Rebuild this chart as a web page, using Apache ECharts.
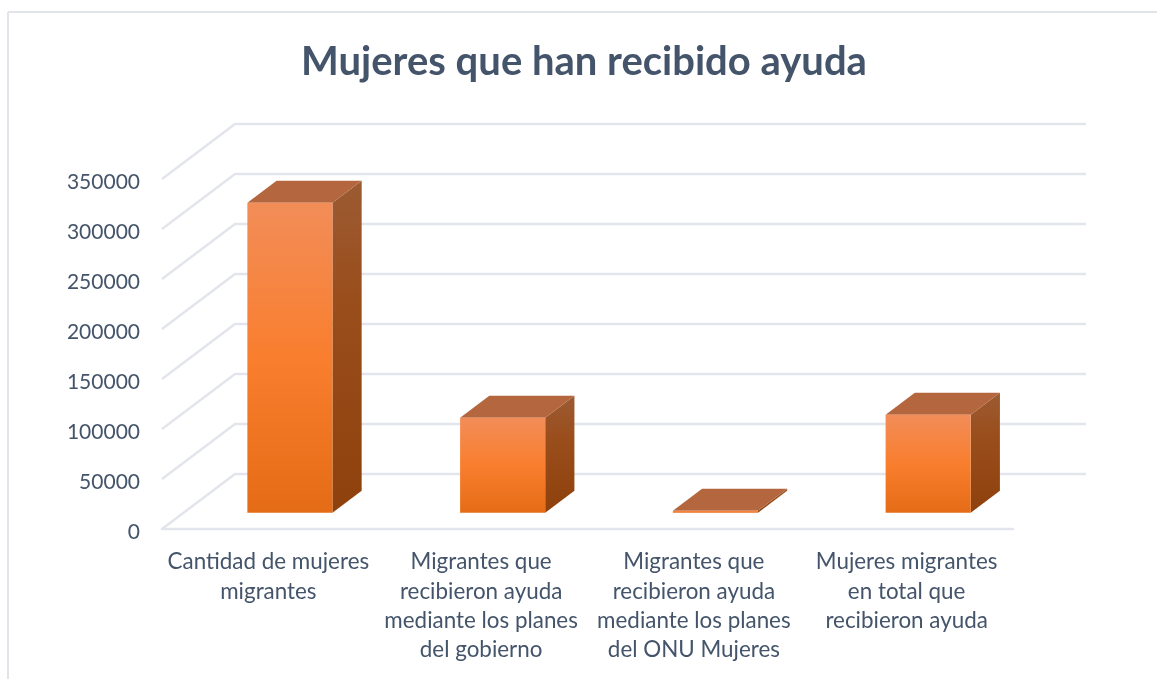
<!DOCTYPE html>
<html>
<head>
<meta charset="utf-8">
<style>
  html, body { margin: 0; padding: 0; background: #fff; }
  #chart { width: 1157px; height: 679px; }
</style>
<script src="https://cdn.jsdelivr.net/npm/echarts@6/dist/echarts.min.js"></script>
</head>
<body>
<div id="chart"></div>
<script>
const TITLE = "Mujeres que han recibido ayuda";
const categories = [
  "Cantidad de mujeres\nmigrantes",
  "Migrantes que\nrecibieron ayuda\nmediante los planes\ndel gobierno",
  "Migrantes que\nrecibieron ayuda\nmediante los planes\ndel ONU Mujeres",
  "Mujeres migrantes\nen total que\nrecibieron ayuda",
];
const values = [310000, 95000, 2000, 98000];
const yTicks = [0, 50000, 100000, 150000, 200000, 250000, 300000, 350000];

const TEXT_COLOR = "#44546A";
const GRID_COLOR = "#E2E5EB";
const FONT = "Lato";
// floor depth of the fake 3D box, in px
const DEPTH_X = 73;
const DEPTH_Y = 55;
const BAR_FRONT = 0.295;
const BAR_BACK = 0.695;
const BAR_RATIO = 0.4;

const chart = echarts.init(document.getElementById("chart"), null, { renderer: "canvas" });

function vGrad(stops) {
  return new echarts.graphic.LinearGradient(0, 0, 0, 1, stops);
}

function renderWall(params, api) {
  const v = api.value(1);
  const cs = params.coordSys;
  const y = api.coord([0, v])[1];
  return {
    type: "polyline",
    shape: {
      points: [
        [cs.x, y],
        [cs.x + DEPTH_X, y - DEPTH_Y],
        [cs.x + cs.width + DEPTH_X, y - DEPTH_Y],
      ],
    },
    style: { stroke: GRID_COLOR, lineWidth: 2.4, fill: null, lineJoin: "round" },
    silent: true,
  };
}

function renderBar(params, api) {
  const idx = api.value(0);
  const top = api.coord([idx, api.value(1)]);
  const base = api.coord([idx, 0]);
  const band = api.size([1, 0])[0];
  const w = band * BAR_RATIO;
  const fx = DEPTH_X * BAR_FRONT;
  const fy = DEPTH_Y * BAR_FRONT;
  const dx = DEPTH_X * (BAR_BACK - BAR_FRONT);
  const dy = DEPTH_Y * (BAR_BACK - BAR_FRONT);
  const x0 = top[0] - w / 2 + fx;
  const x1 = x0 + w;
  const yTop = top[1] - fy;
  const yBase = base[1] - fy;
  return {
    type: "group",
    children: [
      {
        type: "polygon",
        shape: { points: [[x1, yTop], [x1 + dx, yTop - dy], [x1 + dx, yBase - dy], [x1, yBase]] },
        style: { fill: vGrad([{ offset: 0, color: "#9C5B33" }, { offset: 0.35, color: "#9A4E1C" }, { offset: 1, color: "#8E410C" }]) },
      },
      {
        type: "polygon",
        shape: { points: [[x0, yTop], [x0 + dx, yTop - dy], [x1 + dx, yTop - dy], [x1, yTop]] },
        style: { fill: "#B4673E" },
      },
      {
        type: "rect",
        shape: { x: x0, y: yTop, width: w, height: yBase - yTop },
        style: {
          fill: vGrad([
            { offset: 0, color: "#F28D58" },
            { offset: 0.5, color: "#F97E2E" },
            { offset: 1, color: "#E56C16" },
          ]),
        },
      },
    ],
  };
}

chart.setOption({
  animation: false,
  backgroundColor: "#ffffff",
  title: {
    text: TITLE,
    left: 579,
    top: 37,
    textAlign: "center",
    textStyle: { color: TEXT_COLOR, fontFamily: FONT, fontWeight: "bold", fontSize: 40 },
  },
  graphic: [
    { type: "line", shape: { x1: 8, y1: 12, x2: 1157, y2: 12 }, style: { stroke: "#E1E5EA", lineWidth: 2 }, silent: true },
    { type: "line", shape: { x1: 8, y1: 12, x2: 8, y2: 679 }, style: { stroke: "#E1E5EA", lineWidth: 2 }, silent: true },
  ],
  grid: { left: 162, right: 144, top: 179, bottom: 150 },
  xAxis: {
    type: "category",
    data: categories,
    axisTick: { show: false },
    axisLine: { lineStyle: { color: GRID_COLOR, width: 2.4 } },
    axisLabel: {
      interval: 0,
      margin: 18.5,
      color: TEXT_COLOR,
      fontFamily: FONT,
      fontSize: 22.4,
      lineHeight: 29.3,
    },
  },
  yAxis: {
    type: "value",
    min: 0,
    max: 350000,
    interval: 50000,
    axisLine: { show: false },
    axisTick: { show: false },
    splitLine: { show: false },
    axisLabel: {
      margin: 22,
      verticalAlign: "top",
      lineHeight: 6,
      color: TEXT_COLOR,
      fontFamily: FONT,
      fontSize: 21,
      formatter: (v) => String(v),
    },
  },
  series: [
    {
      type: "custom",
      name: "wall",
      renderItem: renderWall,
      data: yTicks.map((t) => [0, t]),
      clip: false,
      silent: true,
      z: 1,
    },
    {
      type: "custom",
      name: "Mujeres",
      renderItem: renderBar,
      data: values.map((v, i) => [i, v]),
      clip: false,
      z: 2,
    },
  ],
});
</script>
</body>
</html>
